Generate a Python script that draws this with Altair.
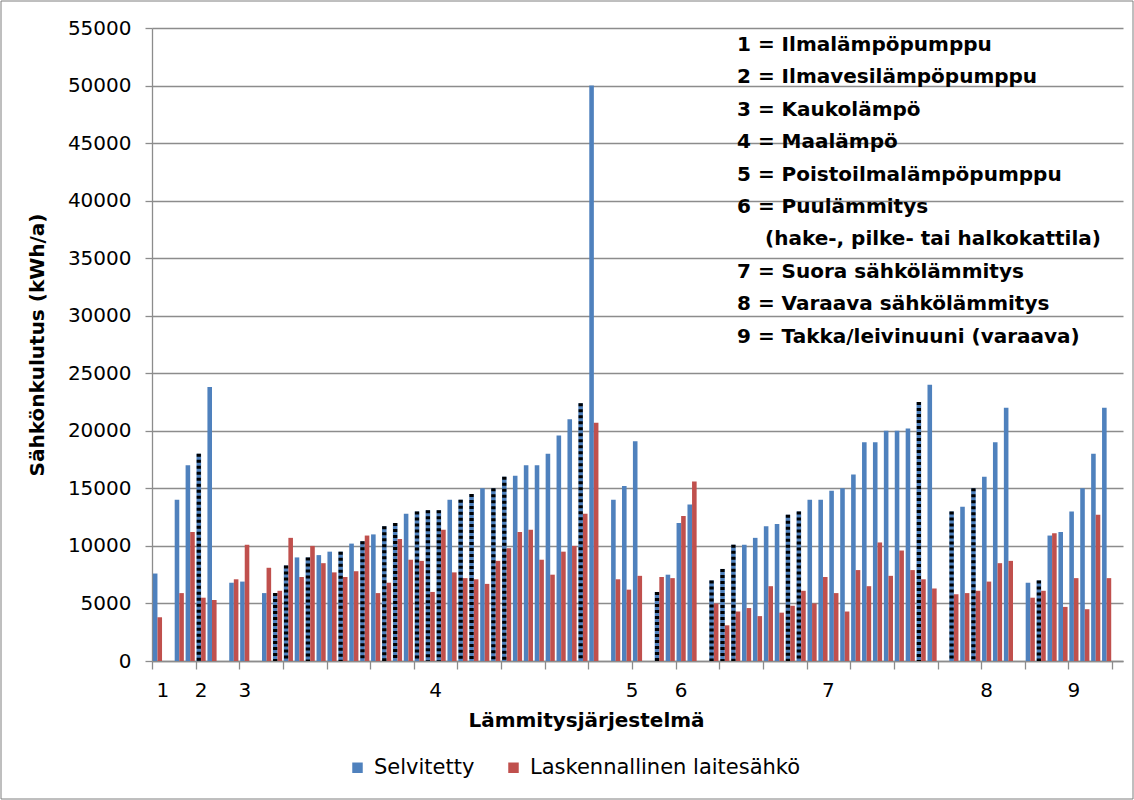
import altair as alt
import pandas as pd

group_labels = ["1", "2", "3", "4", "5", "6", "7", "8", "9"]
series_names = ["Selvitetty", "Laskennallinen laitesähkö"]

selvitetty = [
    [7600],
    [14000, 17000, 18000, 23800],
    [6800, 6900],
    [5900, 5900, 8300, 9000, 9000, 9200, 9500, 9500, 10200, 10400, 11000, 11700, 12000, 12800, 13000,
     13100, 13100, 14000, 14000, 14500, 15000, 15000, 16000, 16100, 17000, 17000, 18000, 19600, 21000,
     22400, 50000],
    [14000, 15200, 19100],
    [6000, 7500, 12000, 13600],
    [7000, 8000, 10100, 10100, 10700, 11700, 11900, 12700, 13000, 14000, 14000, 14800, 15000, 16200,
     19000, 19000, 20000, 20000, 20200, 22500, 24000],
    [13000, 13400, 15000, 16000, 19000, 22000],
    [6800, 7000, 10900, 11200, 13000, 15000, 18000, 22000],
]
laskennallinen = [
    [3800],
    [5900, 11200, 5500, 5300],
    [7100, 10100],
    [8100, 6100, 10700, 7300, 10000, 8500, 7700, 7300, 7800, 10900, 5900, 6800, 10600, 8800, 8700,
     6000, 11400, 7700, 7200, 7100, 6700, 8700, 9800, 11200, 11400, 8800, 7500, 9500, 10000,
     12800, 20700],
    [7100, 6200, 7400],
    [7300, 7200, 12600, 15600],
    [5000, 3100, 4300, 4600, 3900, 6500, 4200, 4800, 6100, 5000, 7300, 5900, 4300, 7900, 6500,
     10300, 7400, 9600, 7900, 7100, 6300],
    [5800, 5900, 6100, 6900, 8500, 8700],
    [5500, 6100, 11100, 4700, 7200, 4500, 12700, 7200],
]
# 1 = the blue bar is drawn with the black checker pattern
patterned = [
    [0],
    [0, 0, 1, 0],
    [0, 0],
    [0, 1, 1, 0, 1, 0, 0, 1, 0, 1, 0, 1, 1, 0, 1, 1, 1, 0, 1, 1, 0, 1, 1, 0, 0, 0, 0, 0, 0, 1, 0],
    [0, 0, 0],
    [1, 0, 0, 0],
    [1, 1, 1, 0, 0, 0, 0, 1, 1, 0, 0, 0, 0, 0, 0, 0, 0, 0, 0, 1, 0],
    [1, 0, 1, 0, 0, 0],
    [0, 1, 0, 0, 0, 0, 0, 0],
]

legend_lines_a = [
    "1 = Ilmalämpöpumppu",
    "2 = Ilmavesilämpöpumppu",
    "3 = Kaukolämpö",
    "4 = Maalämpö",
    "5 = Poistoilmalämpöpumppu",
    "6 = Puulämmitys",
]
legend_subline = "(hake-, pilke- tai halkokattila)"
legend_lines_b = [
    "7 = Suora sähkölämmitys",
    "8 = Varaava sähkölämmitys",
    "9 = Takka/leivinuuni (varaava)",
]

BLUE = "#4F81BD"
RED = "#C0504D"
GRID = "#8c8c8c"
FONT = "DejaVu Sans"
LINE_H = 32.4

# ---- build tables (one empty category after each group) ----
bar_rows, pat_rows, lab_rows = [], [], []
idx = 0
for lab, sv, lv, pv in zip(group_labels, selvitetty, laskennallinen, patterned):
    start = idx
    for s, l, p in zip(sv, lv, pv):
        bar_rows.append({"series": series_names[0], "value": s, "x0": idx + 0.08, "x1": idx + 0.5})
        bar_rows.append({"series": series_names[1], "value": l, "x0": idx + 0.5, "x1": idx + 0.92})
        if p:
            pat_rows.append({"value": s, "xc": idx + 0.29})
        idx += 1
    idx += 1  # gap
    lab_rows.append({"label": lab, "pos": (start + idx) / 2})
N = idx

bars_df = pd.DataFrame(bar_rows)
pat_df = pd.DataFrame(pat_rows)
lab_df = pd.DataFrame(lab_rows)

W, H = 971, 633

xscale = alt.Scale(domain=[0, N], nice=False, zero=False)
yscale = alt.Scale(domain=[0, 55000], nice=False)

bars = alt.Chart(bars_df).mark_bar().encode(
    x=alt.X("x0:Q", scale=xscale, axis=alt.Axis(
        values=list(range(0, N + 1)), labels=False, grid=False,
        domainColor=GRID, domainWidth=1.3, tickColor=GRID, tickWidth=1.3, tickSize=8,
        title="Lämmitysjärjestelmä", titleFont=FONT, titleFontSize=20, titleFontWeight="bold",
        titleColor="black", titleX=434, titleY=59, titleBaseline="middle", titleAlign="center")),
    x2="x1:Q",
    y=alt.Y("value:Q", scale=yscale, axis=alt.Axis(
        values=list(range(0, 55001, 5000)), format="d", grid=True, gridColor=GRID, gridWidth=1.3,
        domainColor=GRID, domainWidth=1.3, tickColor=GRID, tickWidth=1.3, tickSize=7,
        labelFont=FONT, labelFontSize=20, labelColor="black", labelPadding=14,
        title="Sähkönkulutus (kWh/a)", titleFont=FONT, titleFontSize=20, titleFontWeight="bold",
        titleColor="black", titleX=-115, titleY=H / 2, titleAngle=-90, titleAlign="center",
        titleBaseline="middle")),
    y2=alt.datum(0),
    color=alt.Color("series:N", scale=alt.Scale(domain=series_names, range=[BLUE, RED]),
                    sort=series_names,
                    legend=alt.Legend(orient="none", legendX=195, legendY=729, direction="horizontal",
                                      title=None, symbolType="square", symbolSize=110,
                                      symbolStrokeWidth=0, labelFont=FONT, labelFontSize=21,
                                      labelColor="black", labelOffset=6, columnPadding=28,
                                      labelLimit=500)),
)

pattern = alt.Chart(pat_df).mark_rule(color="black", strokeWidth=4.2, strokeDash=[3, 3]).encode(
    x=alt.X("xc:Q", scale=xscale),
    y=alt.Y("value:Q", scale=yscale),
    y2=alt.datum(0),
)

group_text = alt.Chart(lab_df).mark_text(font=FONT, fontSize=20, color="black", baseline="middle").encode(
    x=alt.X("pos:Q", scale=xscale),
    y=alt.value(H + 30),
    text="label:N",
)

note_style = dict(font=FONT, fontSize=20, fontWeight="bold", color="black", align="left",
                  baseline="top", lineBreak="\n", lineHeight=LINE_H)

note_a = alt.Chart(alt.Data(values=[{"t": "\n".join(legend_lines_a)}])).mark_text(**note_style).encode(
    x=alt.value(585), y=alt.value(7), text="t:N")
note_sub = alt.Chart(alt.Data(values=[{"t": legend_subline}])).mark_text(**note_style).encode(
    x=alt.value(613), y=alt.value(7 + 6 * LINE_H), text="t:N")
note_b = alt.Chart(alt.Data(values=[{"t": "\n".join(legend_lines_b)}])).mark_text(**note_style).encode(
    x=alt.value(585), y=alt.value(7 + 7 * LINE_H), text="t:N")

border = alt.Chart(alt.Data(values=[{"a": 1}])).mark_rect(
    filled=False, stroke="#7f7f7f", strokeWidth=1
).encode(x=alt.value(-151), x2=alt.value(W + 10), y=alt.value(-27), y2=alt.value(H + 138))

chart = alt.layer(border, bars, pattern, group_text, note_a, note_sub, note_b).properties(
    width=W, height=H, autosize="none",
    padding={"left": 152, "top": 28, "right": 1134 - 152 - W, "bottom": 800 - 28 - H},
    background="white",
).configure_view(stroke=None)

chart.save("out.html", embed_options={"renderer": "svg", "actions": False})
